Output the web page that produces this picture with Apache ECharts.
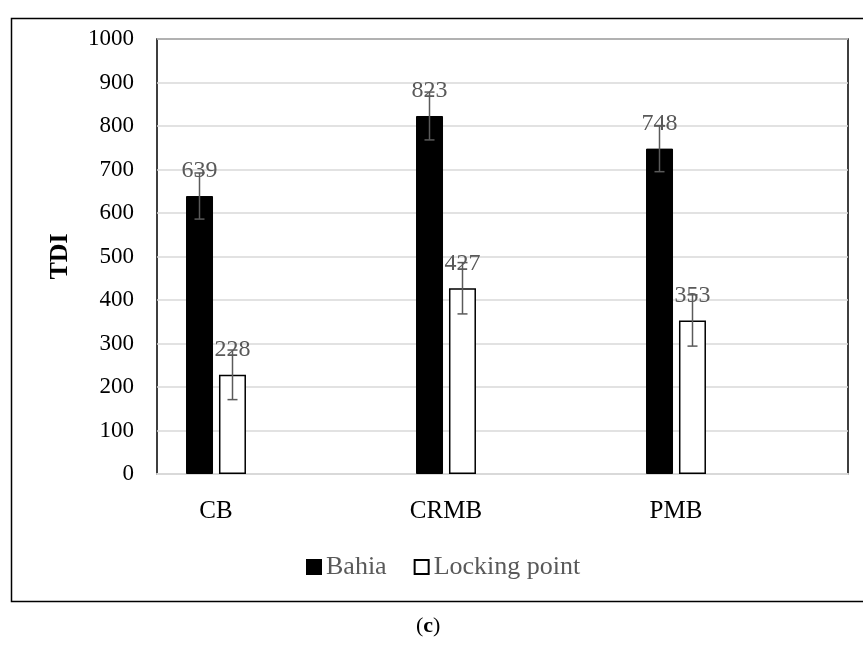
<!DOCTYPE html>
<html>
<head>
<meta charset="utf-8">
<script src="https://cdn.jsdelivr.net/npm/echarts@6/dist/echarts.min.js"></script>
<style>
html,body{margin:0;padding:0;background:#fff;}
#chart{width:863px;height:651px;}
</style>
</head>
<body>
<div id="chart"></div>
<script>
var categories = ['CB', 'CRMB', 'PMB'];
var bahia = [639, 823, 748];
var locking = [228, 427, 353];
var bahiaErr = [53, 55, 53];
var lockingErr = [57, 59, 59];
var yTicks = [0, 1000, 100];

var FONT = '"Liberation Serif", "Times New Roman", serif';

function errData(vals, errs) {
  return vals.map(function (v, i) { return [i, v - errs[i], v + errs[i]]; });
}

function errSeries(name, data, offset) {
  return {
    type: 'custom',
    name: name + ' error',
    xAxisIndex: 1, yAxisIndex: 1,
    z: 10,
    silent: true,
    data: data,
    encode: { x: 0, y: [1, 2] },
    renderItem: function (params, api) {
      var top = api.coord([api.value(0), api.value(2)]);
      var bot = api.coord([api.value(0), api.value(1)]);
      var cx = top[0] + offset;
      var style = { stroke: '#5a5a5a', lineWidth: 1.5 };
      return {
        type: 'group',
        children: [
          { type: 'line', shape: { x1: cx, y1: top[1], x2: cx, y2: bot[1] }, style: style },
          { type: 'line', shape: { x1: cx - 5, y1: top[1], x2: cx + 5, y2: top[1] }, style: style },
          { type: 'line', shape: { x1: cx - 5, y1: bot[1], x2: cx + 5, y2: bot[1] }, style: style }
        ]
      };
    }
  };
}

var chart = echarts.init(document.getElementById('chart'), null, { renderer: 'canvas' });
var labelCfg = {
  show: true, position: 'top', distance: 13,
  color: '#595959', fontFamily: FONT, fontSize: 24
};

chart.setOption({
  animation: false,
  backgroundColor: '#fff',
  textStyle: { fontFamily: FONT },
  graphic: [
    {
      type: 'rect', left: 9, top: 16, z: -10, silent: true,
      shape: { width: 880, height: 583 },
      style: { fill: 'none', stroke: '#000', lineWidth: 1.5 }
    },
    {
      type: 'text', left: 416, top: 615, silent: true,
      style: {
        text: '({b|c})',
        fontFamily: FONT, fontSize: 22, fill: '#000',
        rich: { b: { fontWeight: 'bold', fontFamily: FONT, fontSize: 22, fill: '#000' } }
      }
    }
  ],
  grid: [
    { left: 157, right: 15, top: 39, bottom: 177, show: true, borderColor: '#000', borderWidth: 1.5, backgroundColor: 'transparent' },
    { left: 101, width: 690, top: 39, bottom: 177 }
  ],
  legend: {
    data: ['Bahia', 'Locking point'],
    top: 549, left: 301,
    itemWidth: 14, itemHeight: 14, itemGap: 27,
    icon: 'rect',
    textStyle: { color: '#595959', fontFamily: FONT, fontSize: 26, padding: [0, 0, 0, 0] }
  },
  xAxis: [
    {
      gridIndex: 0, type: 'category', data: categories,
      axisLine: { show: true, lineStyle: { color: '#d9d9d9', width: 2 } },
      axisTick: { show: false }, axisLabel: { show: false }, splitLine: { show: false }
    },
    {
      gridIndex: 1, type: 'category', data: categories,
      axisLine: { show: false }, axisTick: { show: false },
      axisLabel: { color: '#000', fontFamily: FONT, fontSize: 25, margin: 25 }
    }
  ],
  yAxis: [
    {
      gridIndex: 0, type: 'value', min: yTicks[0], max: yTicks[1], interval: yTicks[2],
      name: 'TDI', nameLocation: 'middle', nameGap: 84, nameRotate: 90,
      nameTextStyle: { color: '#000', fontFamily: FONT, fontSize: 26, fontWeight: 'bold' },
      axisLine: { show: false }, axisTick: { show: false },
      axisLabel: { color: '#000', fontFamily: FONT, fontSize: 23, margin: 23, formatter: function (v) { return String(v); } },
      splitLine: { show: true, lineStyle: { color: '#d9d9d9', width: 1.5 } }
    },
    {
      gridIndex: 1, type: 'value', min: yTicks[0], max: yTicks[1], interval: yTicks[2],
      show: false, splitLine: { show: false }
    }
  ],
  series: [
    {
      name: 'Bahia', type: 'bar', xAxisIndex: 1, yAxisIndex: 1,
      data: bahia, barWidth: 27, barGap: '22%',
      itemStyle: { color: '#000', borderColor: '#000', borderWidth: 1 },
      label: labelCfg
    },
    {
      name: 'Locking point', type: 'bar', xAxisIndex: 1, yAxisIndex: 1,
      data: locking, barWidth: 27, barGap: '22%',
      itemStyle: { color: '#fff', borderColor: '#000', borderWidth: 1.5 },
      label: labelCfg
    },
    errSeries('Bahia', errData(bahia, bahiaErr), -16.5),
    errSeries('Locking point', errData(locking, lockingErr), 16.5)
  ]
});
</script>
</body>
</html>
